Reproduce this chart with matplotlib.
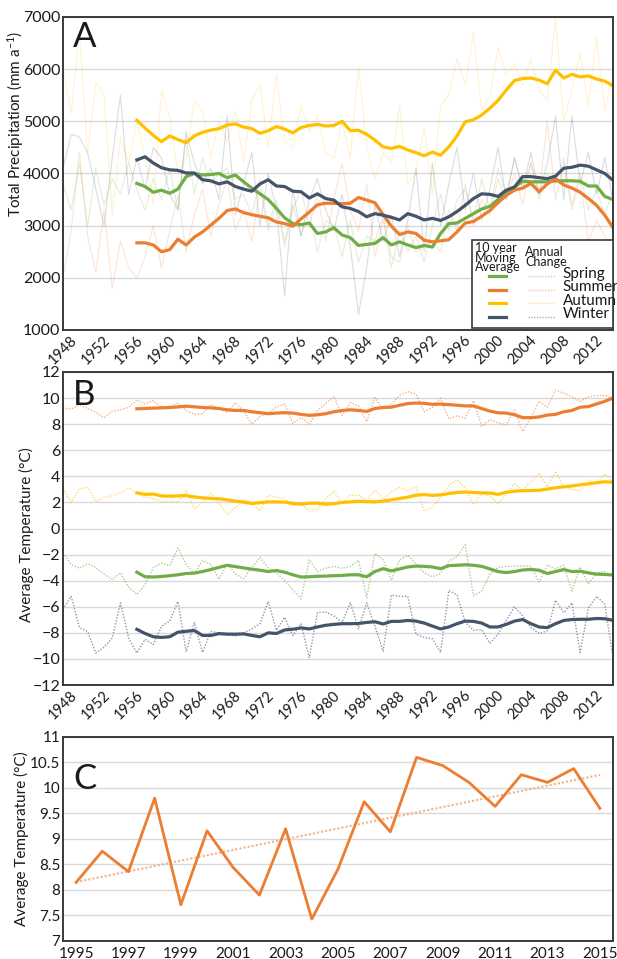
# -*- coding: utf-8 -*-
import numpy as np
import matplotlib
matplotlib.use('Agg')
import matplotlib.pyplot as plt
from matplotlib.patches import Rectangle
from matplotlib.lines import Line2D

plt.rcParams['font.family'] = ['Lato', 'DejaVu Sans']
plt.rcParams['mathtext.default'] = 'regular'

# ---------------- data ----------------
years = list(range(1948, 2016))
ma_years = list(range(1957, 2016))

# panel A, annual precipitation (mm/a)
a_spring = [3800, 3300, 4200, 3000, 4100, 3400, 3900, 3600, 4200, 3700,
            3300, 3900, 3500, 4100, 3300, 4700, 3600, 4300, 3800, 4000,
            4100, 3500, 3600, 3200, 3900, 3000, 3500, 2700, 3400, 2800,
            3300, 2500, 3100, 3000, 2400, 3100, 2300, 2800, 2700, 3200,
            2200, 2900, 2500, 2800, 2300, 3000, 3600, 2900, 3500, 3700,
            3100, 3900, 3300, 4100, 3600, 4300, 3700, 4200, 3500, 4000,
            3800, 4300, 3400, 4000, 3300, 3700, 3200, 3700]
a_summer = [2000, 2900, 4400, 2800, 2100, 3300, 1800, 2700, 2200, 2000,
            2400, 3000, 2200, 2900, 3600, 2500, 3200, 3700, 2800, 3400,
            3900, 2900, 3300, 2700, 3700, 2900, 3400, 2600, 3300, 3700,
            3000, 3600, 2700, 3500, 4200, 3300, 2900, 3800, 2400, 3100,
            2400, 2300, 3000, 2500, 2600, 2700, 2500, 3300, 2900, 3800,
            3000, 3500, 3200, 3900, 3500, 4000, 3400, 4200, 3600, 5000,
            3500, 4200, 3300, 3900, 2700, 3100, 2800, 2500]
a_autumn = [6000, 5150, 6700, 4400, 5750, 5500, 3200, 4700, 4200, 5000,
            4300, 3400, 5600, 5100, 4000, 4300, 5400, 5200, 4300, 5000,
            4600, 5200, 4200, 5400, 5700, 4500, 5900, 4600, 4500, 5300,
            4800, 5100, 4400, 4300, 5000, 4300, 6050, 4500, 3900, 4400,
            4200, 5300, 3800, 4000, 4900, 3600, 5300, 5500, 6200, 5700,
            6700, 5200, 5500, 6400, 5900, 6100, 5700, 6200, 5600, 5400,
            7000, 5000, 5600, 6300, 5300, 6600, 5200, 5900]
a_winter = [4100, 4750, 4700, 4400, 3700, 3000, 4300, 5500, 3600, 4300,
            3700, 4500, 4300, 3600, 3300, 4800, 4200, 3800, 4100, 3500,
            5100, 3200, 3800, 4400, 3000, 4000, 3300, 1650, 3700, 2800,
            3500, 3900, 3300, 2900, 3600, 2600, 1300, 2200, 3400, 2700,
            3200, 2400, 3100, 4100, 2500, 4200, 3000, 3800, 4500, 3300,
            4000, 3100, 3700, 4500, 3500, 4300, 3700, 4400, 3600, 4200,
            5100, 3500, 5100, 3800, 4400, 3600, 4300, 3500]

# panel A, 10 year moving average
a_spring_ma = [3810, 3750, 3640, 3680, 3620, 3700, 3940, 4000, 3970, 3980,
               4000, 3920, 3970, 3840, 3720, 3610, 3500, 3330, 3150, 3040,
               3020, 3050, 2850, 2880, 2960, 2820, 2770, 2620, 2640, 2660,
               2770, 2630, 2690, 2630, 2580, 2620, 2590, 2850, 3040, 3050,
               3140, 3230, 3320, 3370, 3500, 3650, 3740, 3850, 3840, 3840,
               3840, 3860, 3860, 3860, 3850, 3760, 3760, 3560, 3500]
a_summer_ma = [2670, 2670, 2630, 2500, 2540, 2740, 2630, 2780, 2880, 3010,
               3140, 3290, 3320, 3250, 3210, 3180, 3150, 3070, 3040, 2990,
               3130, 3260, 3400, 3430, 3430, 3420, 3430, 3540, 3490, 3440,
               3210, 2990, 2830, 2880, 2850, 2720, 2690, 2710, 2730, 2880,
               3050, 3080, 3180, 3290, 3440, 3580, 3680, 3720, 3810, 3650,
               3800, 3900, 3780, 3720, 3640, 3520, 3390, 3200, 2960]
a_autumn_ma = [5020, 4870, 4730, 4610, 4720, 4650, 4590, 4720, 4790, 4830,
               4860, 4930, 4950, 4890, 4860, 4770, 4820, 4900, 4850, 4780,
               4880, 4920, 4940, 4910, 4920, 5000, 4820, 4830, 4750, 4640,
               4510, 4480, 4520, 4450, 4400, 4340, 4410, 4350, 4510, 4720,
               4990, 5030, 5120, 5250, 5400, 5600, 5780, 5820, 5830, 5790,
               5720, 5980, 5830, 5900, 5850, 5870, 5810, 5770, 5680]
a_winter_ma = [4260, 4320, 4200, 4110, 4070, 4060, 4010, 4010, 3880, 3860,
               3800, 3840, 3750, 3700, 3660, 3800, 3880, 3760, 3750, 3660,
               3650, 3530, 3610, 3520, 3490, 3360, 3330, 3270, 3170, 3230,
               3200, 3160, 3110, 3230, 3180, 3110, 3140, 3100, 3170, 3270,
               3390, 3520, 3610, 3600, 3560, 3680, 3740, 3940, 3940, 3920,
               3900, 3950, 4100, 4120, 4160, 4140, 4070, 4000, 3870]

# panel B, annual temperature (deg C)
b_spring = [-1.85, -2.75, -3.05, -2.7, -3.0, -3.5, -3.9, -3.4, -4.5, -5.05,
            -4.3, -3.0, -2.65, -2.85, -1.5, -2.75, -3.45, -2.45, -2.75, -3.9,
            -2.7, -3.5, -3.85, -3.0, -2.2, -3.05, -3.4, -3.98, -4.7, -5.4,
            -2.4, -3.3, -3.05, -2.9, -3.05, -2.9, -2.45, -5.3, -1.9, -2.4,
            -3.98, -2.4, -2.05, -2.7, -3.4, -3.7, -3.45, -2.5, -2.15, -1.25,
            -5.15, -4.8, -3.5, -3.0, -2.9, -2.9, -2.85, -2.9, -4.1, -2.8,
            -3.1, -2.8, -4.8, -2.95, -4.25, -3.4, -3.3, -3.65]
b_summer = [9.25, 9.15, 9.5, 9.2, 8.9, 8.5, 9.0, 9.1, 9.3, 9.85,
            9.55, 9.8, 9.3, 9.35, 9.6, 9.05, 8.75, 8.8, 9.5, 9.2,
            8.9, 9.65, 9.0, 8.0, 8.6, 8.85, 9.3, 9.55, 8.05, 8.5,
            8.0, 9.05, 9.6, 10.13, 8.67, 9.65, 9.4, 8.2, 10.05, 9.15,
            9.5, 10.2, 10.5, 10.3, 8.95, 9.3, 10.0, 8.4, 8.65, 8.45,
            9.8, 7.85, 8.35, 8.1, 7.95, 9.1, 7.45, 8.5, 9.75, 9.3,
            10.6, 10.38, 10.1, 9.75, 10.1, 10.2, 10.2, 10.0]
b_autumn = [3.1, 2.0, 3.05, 3.15, 2.05, 2.4, 2.5, 2.75, 3.1, 2.7,
            2.4, 2.3, 2.05, 2.1, 2.0, 2.9, 1.5, 2.0, 2.7, 1.95,
            1.1, 1.6, 2.2, 2.0, 1.35, 2.55, 2.4, 2.3, 1.75, 1.9,
            1.35, 1.4, 2.3, 2.85, 1.95, 2.55, 2.55, 2.15, 2.95, 2.25,
            2.8, 3.15, 2.9, 3.2, 1.35, 1.6, 2.4, 3.3, 3.75, 3.1,
            1.85, 2.7, 2.5, 1.9, 2.6, 3.45, 2.9, 3.6, 4.25, 3.2,
            4.4, 3.15, 3.0, 2.9, 3.7, 3.4, 4.2, 3.6]
b_winter = [-6.2, -5.2, -7.6, -7.9, -9.55, -9.1, -8.4, -5.7, -8.4, -9.55,
            -8.5, -8.9, -7.5, -7.1, -5.6, -9.45, -7.2, -9.5, -7.9, -8.0,
            -8.1, -8.25, -8.0, -7.7, -7.3, -5.6, -7.8, -6.8, -8.2, -7.3,
            -9.9, -6.45, -6.4, -6.7, -7.2, -5.7, -7.7, -5.7, -7.5, -9.4,
            -5.1, -5.2, -5.2, -8.1, -8.35, -8.45, -9.5, -4.75, -5.1, -7.2,
            -7.8, -7.75, -8.8, -8.1, -7.05, -6.0, -6.7, -7.6, -8.05, -7.85,
            -5.5, -6.45, -5.7, -9.5, -6.1, -5.2, -5.8, -9.9]

# panel B, 10 year moving average
b_spring_ma = [-3.35, -3.7, -3.72, -3.68, -3.62, -3.55, -3.45, -3.42, -3.3, -3.15,
               -2.98, -2.82, -2.92, -3.02, -3.12, -3.2, -3.3, -3.22, -3.35, -3.55,
               -3.72, -3.7, -3.66, -3.65, -3.62, -3.6, -3.55, -3.55, -3.7, -3.3,
               -3.08, -3.25, -3.1, -2.95, -2.88, -2.9, -2.95, -3.08, -2.85, -2.82,
               -2.78, -2.82, -2.9, -3.1, -3.3, -3.38, -3.3, -3.18, -3.14, -3.2,
               -3.45, -3.3, -3.15, -3.3, -3.28, -3.4, -3.5, -3.52, -3.57]
b_summer_ma = [9.18, 9.2, 9.23, 9.25, 9.28, 9.32, 9.38, 9.33, 9.28, 9.25,
               9.2, 9.1, 9.05, 9.05, 8.95, 8.88, 8.8, 8.85, 8.88, 8.85,
               8.75, 8.68, 8.72, 8.8, 8.95, 9.05, 9.1, 9.05, 8.98, 9.2,
               9.28, 9.3, 9.45, 9.58, 9.62, 9.6, 9.52, 9.54, 9.5, 9.45,
               9.4, 9.4, 9.2, 9.0, 8.87, 8.85, 8.72, 8.5, 8.5, 8.55,
               8.7, 8.75, 8.95, 9.05, 9.3, 9.35, 9.55, 9.75, 10.0]
b_autumn_ma = [2.73, 2.62, 2.64, 2.5, 2.48, 2.5, 2.52, 2.42, 2.35, 2.3,
               2.28, 2.2, 2.1, 2.02, 1.92, 1.98, 2.04, 2.04, 2.02, 1.92,
               1.86, 1.94, 1.94, 1.86, 1.9, 2.0, 2.04, 2.08, 2.06, 2.04,
               2.1, 2.2, 2.3, 2.4, 2.55, 2.6, 2.54, 2.58, 2.68, 2.76,
               2.8, 2.76, 2.73, 2.72, 2.62, 2.78, 2.86, 2.9, 2.91, 2.93,
               3.02, 3.12, 3.2, 3.26, 3.35, 3.42, 3.52, 3.58, 3.55]
b_winter_ma = [-7.73, -8.05, -8.3, -8.35, -8.3, -7.95, -7.88, -7.82, -8.2, -8.2,
               -8.06, -8.1, -8.1, -8.08, -8.2, -8.3, -8.0, -8.05, -7.78, -7.72,
               -7.62, -7.7, -7.55, -7.42, -7.35, -7.3, -7.3, -7.28, -7.2, -7.15,
               -7.32, -7.12, -7.12, -7.05, -7.1, -7.25, -7.48, -7.7, -7.55, -7.3,
               -7.1, -7.12, -7.25, -7.55, -7.55, -7.35, -7.1, -6.98, -7.3, -7.55,
               -7.6, -7.3, -7.05, -6.98, -6.96, -6.96, -6.9, -6.92, -7.04]

# panel C, summer average temperature
c_years = list(range(1995, 2016))
c_temp = [8.15, 8.76, 8.36, 9.80, 7.71, 9.16, 8.44, 7.90, 9.20, 7.43, 8.41,
          9.73, 9.14, 10.60, 10.44, 10.11, 9.64, 10.26, 10.11, 10.38, 9.60]

season_names = ['Spring', 'Summer', 'Autumn', 'Winter']
season_colors = ['#70AD47', '#ED7D31', '#FFC000', '#44546A']

# ---------------- figure ----------------
fig = plt.figure(figsize=(6.17, 9.59), dpi=100)
axA = fig.add_axes([0.1021, 0.6559, 0.8914, 0.3264])
axB = fig.add_axes([0.1021, 0.2857, 0.8914, 0.3264])
axC = fig.add_axes([0.1021, 0.0188, 0.8914, 0.2127])

txt_col = '#1a1a1a'


def style(ax, fs=11.5):
    for s in ax.spines.values():
        s.set_color('#3a3a3a')
        s.set_linewidth(1.4)
    ax.grid(axis='y', color='#d9d9d9', lw=1.0)
    ax.set_axisbelow(True)
    ax.tick_params(length=0, labelsize=fs, colors=txt_col, pad=2)


# ---- A ----
style(axA)
for vals, c in zip([a_spring, a_summer, a_autumn, a_winter], season_colors):
    axA.plot(years, vals, color=c, lw=0.8, alpha=0.2)
for vals, c in zip([a_spring_ma, a_summer_ma, a_autumn_ma, a_winter_ma], season_colors):
    axA.plot(ma_years, vals, color=c, lw=2.3, solid_joinstyle='round')
axA.set_xlim(1948, 2015)
axA.set_ylim(1000, 7000)
axA.set_yticks(range(1000, 7001, 1000))
xt = list(range(1948, 2013, 4))
axA.set_xticks(xt)
axA.set_xticklabels([str(y) for y in xt], rotation=45, ha='center', fontsize=10.5)
axA.set_ylabel('Total Precipitation (mm a$^{-1}$)', fontsize=11, color=txt_col)
axA.yaxis.set_label_coords(-0.068, 0.66)
axA.text(0.018, 0.904, 'A', transform=axA.transAxes, fontsize=25, va='baseline', color=txt_col)

# legend box drawn by hand
axA.add_patch(Rectangle((0.744, 0.006), 0.256, 0.282, transform=axA.transAxes,
                        facecolor='white', edgecolor='#3a3a3a', lw=1.2, zorder=5))
axA.text(0.749, 0.282, '10 year\nMoving\nAverage', transform=axA.transAxes, fontsize=9,
         va='top', ha='left', linespacing=0.78, color=txt_col, zorder=6)
axA.text(0.840, 0.268, 'Annual\nChange', transform=axA.transAxes, fontsize=9,
         va='top', ha='left', linespacing=0.78, color=txt_col, zorder=6)
row_y = [0.172, 0.129, 0.086, 0.042]
for name, c, yy in zip(season_names, season_colors, row_y):
    axA.add_line(Line2D([0.775, 0.805], [yy, yy], transform=axA.transAxes, color=c, lw=2.3, zorder=6))
    axA.add_line(Line2D([0.845, 0.895], [yy, yy], transform=axA.transAxes, color=c, lw=1.0,
                        ls=(0, (1, 1)), alpha=0.45, zorder=6))
    axA.text(0.909, yy + 0.008, name, transform=axA.transAxes, fontsize=11, va='center',
             ha='left', color=txt_col, zorder=6)

# ---- B ----
style(axB)
for vals, c in zip([b_spring, b_summer, b_autumn, b_winter], season_colors):
    axB.plot(years, vals, color=c, lw=1.0, ls=(0, (1, 1.2)), alpha=0.6)
for vals, c in zip([b_spring_ma, b_summer_ma, b_autumn_ma, b_winter_ma], season_colors):
    axB.plot(ma_years, vals, color=c, lw=2.3, solid_joinstyle='round')
axB.set_xlim(1948, 2015)
axB.set_ylim(-12, 12)
axB.set_yticks(range(-12, 13, 2))
axB.set_xticks(xt)
axB.set_xticklabels([str(y) for y in xt], rotation=45, ha='center', fontsize=10.5)
axB.set_ylabel('Average Temperature (°C)', fontsize=11, color=txt_col)
axB.yaxis.set_label_coords(-0.052, 0.48)
axB.text(0.018, 0.895, 'B', transform=axB.transAxes, fontsize=25, va='baseline', color=txt_col)

# ---- C ----
style(axC, fs=11)
axC.tick_params(axis='x', pad=4)
coef = np.polyfit(c_years, c_temp, 1)
axC.plot(c_years, np.polyval(coef, c_years), color='#F4B183', lw=1.5, ls=(0, (1, 1)))
axC.plot(c_years, c_temp, color='#ED7D31', lw=2.0)
axC.set_xlim(1994.5, 2015.5)
axC.set_ylim(7, 11)
yt = [7, 7.5, 8, 8.5, 9, 9.5, 10, 10.5, 11]
axC.set_yticks(yt)
axC.set_yticklabels([('%g' % v) for v in yt])
axC.set_xticks(range(1995, 2016, 2))
axC.set_ylabel('Average Temperature (°C)', fontsize=11, color=txt_col)
axC.yaxis.set_label_coords(-0.062, 0.5)
axC.text(0.018, 0.745, 'C', transform=axC.transAxes, fontsize=25, va='baseline', color=txt_col)

fig.savefig('out.png', dpi=100)
